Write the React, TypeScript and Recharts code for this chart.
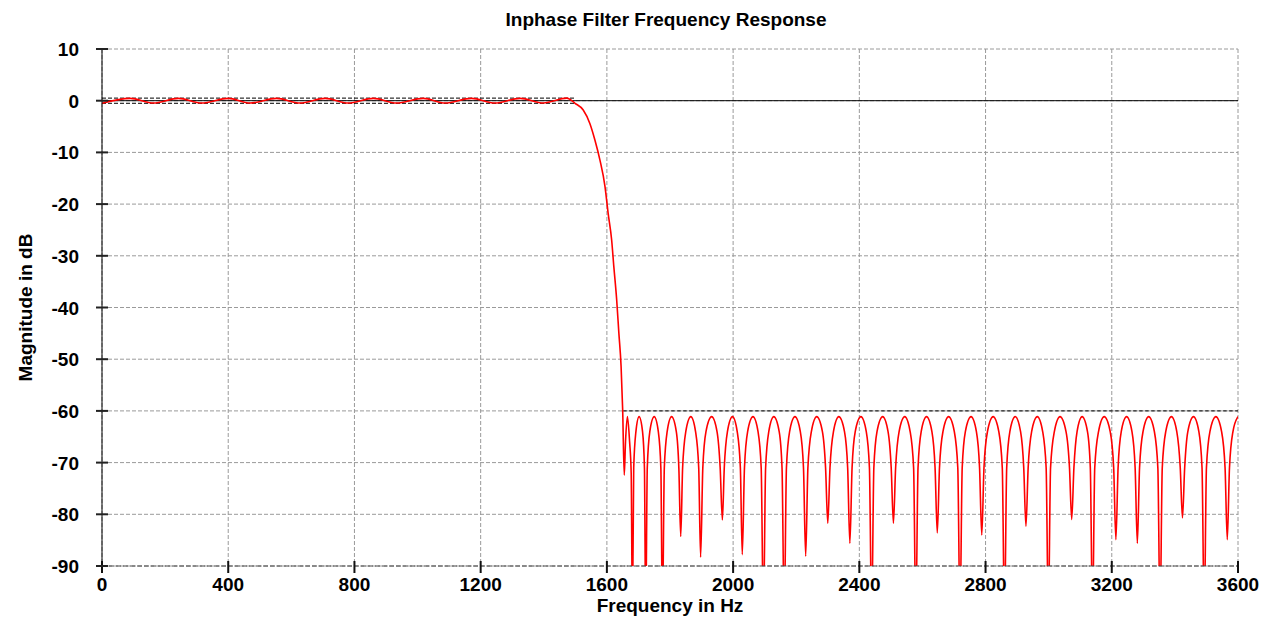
import { LineChart, Line, XAxis, YAxis, CartesianGrid, ReferenceLine, Label } from "recharts";

const freqTicks = [0, 400, 800, 1200, 1600, 2000, 2400, 2800, 3200, 3600];
const dbTicks = [-90, -80, -70, -60, -50, -40, -30, -20, -10, 0, 10];

// passband ripple
const passbandHz = [0, 89, 163, 242, 316, 400, 469, 553, 627, 707, 780, 860, 933, 1018, 1087, 1171, 1245, 1325, 1399, 1473, 1499];
const passbandDb = [-0.5, 0.45, -0.45, 0.45, -0.45, 0.45, -0.45, 0.45, -0.45, 0.45, -0.45, 0.45, -0.45, 0.45, -0.45, 0.45, -0.45, 0.45, -0.45, 0.5, -0.5];

// roll-off
const transitionHz = [1525, 1546, 1562, 1578, 1594, 1604, 1615, 1622, 1631, 1638, 1645, 1650];
const transitionDb = [-1.8, -4.4, -7.6, -11.5, -16.6, -21.8, -26.9, -32.1, -38.5, -45, -51.4, -59.8];

// stopband lobes (null, shoulders, peak), nulls below -90 are clipped
const stopband: [number, number][] = [
  [1655, -72.4], [1659, -66], [1665, -61.1], [1672, -66], [1677, -72],
  [1681, -100], [1685, -71], [1692, -64], [1702, -61.1], [1713, -64], [1719, -71],
  [1723, -100], [1728, -71], [1736, -64], [1750, -61.1], [1763, -64], [1771, -71],
  [1776, -100], [1782, -71], [1791, -64], [1805, -61.1], [1820, -64], [1828, -71],
  [1834, -84.3], [1840, -71], [1850, -64], [1866, -61.1], [1881, -64], [1891, -71],
  [1897, -88.3], [1904, -71], [1914, -64], [1932, -61.1], [1949, -64], [1959, -71],
  [1966, -81.1], [1972, -71], [1982, -64], [1998, -61.1], [2013, -64], [2023, -71],
  [2029, -87.8], [2036, -71], [2046, -64], [2063, -61.1], [2079, -64], [2089, -71],
  [2096, -100], [2103, -71], [2113, -64], [2129, -61.1], [2146, -64], [2155, -71],
  [2162, -100], [2169, -71], [2179, -64], [2196, -61.1], [2213, -64], [2223, -71],
  [2230, -88.1], [2237, -71], [2248, -64], [2265, -61.1], [2283, -64], [2293, -71],
  [2300, -81.7], [2307, -71], [2318, -64], [2335, -61.1], [2353, -64], [2363, -71],
  [2370, -85.6], [2377, -71], [2387, -64], [2405, -61.1], [2422, -64], [2432, -71],
  [2439, -100], [2446, -71], [2456, -64], [2474, -61.1], [2491, -64], [2501, -71],
  [2508, -81.7], [2515, -71], [2526, -64], [2544, -61.1], [2561, -64], [2572, -71],
  [2579, -100], [2586, -71], [2596, -64], [2613, -61.1], [2630, -64], [2640, -71],
  [2647, -83.6], [2654, -71], [2665, -64], [2683, -61.1], [2701, -64], [2712, -71],
  [2719, -100], [2726, -71], [2736, -64], [2754, -61.1], [2771, -64], [2781, -71],
  [2788, -84], [2795, -71], [2806, -64], [2824, -61.1], [2842, -64], [2853, -71],
  [2860, -100], [2867, -71], [2877, -64], [2894, -61.1], [2911, -64], [2921, -71],
  [2928, -82.3], [2935, -71], [2946, -64], [2964, -61.1], [2981, -64], [2992, -71],
  [2999, -100], [3006, -71], [3018, -64], [3036, -61.1], [3055, -64], [3066, -71],
  [3073, -81], [3080, -71], [3090, -64], [3106, -61.1], [3123, -64], [3132, -71],
  [3139, -100], [3146, -71], [3158, -64], [3176, -61.1], [3195, -64], [3206, -71],
  [3213, -84.9], [3220, -71], [3230, -64], [3247, -61.1], [3264, -64], [3274, -71],
  [3281, -85.6], [3288, -71], [3299, -64], [3317, -61.1], [3335, -64], [3346, -71],
  [3353, -100], [3360, -71], [3371, -64], [3389, -61.1], [3406, -64], [3417, -71],
  [3424, -80.7], [3431, -71], [3441, -64], [3459, -61.1], [3476, -64], [3486, -71],
  [3493, -100], [3500, -71], [3511, -64], [3530, -61.1], [3548, -64], [3559, -71],
  [3566, -84.9], [3573, -71], [3584, -64], [3600, -61.1],
];

// spec mask
const passMask = { from: 0, to: 1500, upper: 0.5, lower: -0.5 };
const stopMask = { from: 1650, to: 3600, level: -60 };

const data = [
  ...passbandHz.map((f, i) => ({ f, db: passbandDb[i] })),
  ...transitionHz.map((f, i) => ({ f, db: transitionDb[i] })),
  ...stopband.map(([f, db]) => ({ f, db })),
];

const FONT = '"Liberation Sans", Arial, Helvetica, sans-serif';

const XTick = (props: any) => {
  const { x, y, payload } = props;
  return (
    <g>
      <line x1={x} x2={x} y1={y - 5} y2={y + 7} stroke="#111" strokeWidth={2} />
      <text x={x} y={y + 25} textAnchor="middle" fontFamily={FONT} fontWeight="bold" fontSize={19} fill="#000">
        {payload.value}
      </text>
    </g>
  );
};

const YTick = (props: any) => {
  const { x, y, payload } = props;
  return (
    <g>
      <line x1={x - 6} x2={x + 6} y1={y} y2={y} stroke="#222" strokeWidth={2} />
      <text x={x - 23} y={y + 7} textAnchor="end" fontFamily={FONT} fontWeight="bold" fontSize={19} fill="#000">
        {payload.value}
      </text>
    </g>
  );
};

export default function App() {
  return (
    <div style={{ position: "relative", width: 1254, height: 611, background: "#fff" }}>
      <svg width={1254} height={30} style={{ position: "absolute", left: 0, top: 0 }}>
        <text x={658} y={18} textAnchor="middle" fontFamily={FONT} fontWeight="bold" fontSize={19} fill="#000">
          Inphase Filter Frequency Response
        </text>
      </svg>
      <LineChart width={1254} height={611} data={data} margin={{ top: 41, right: 24, bottom: 0, left: 0 }}>
        <CartesianGrid stroke="#9a9a9a" strokeDasharray="4 2" />
        <XAxis
          dataKey="f"
          type="number"
          domain={[0, 3600]}
          ticks={freqTicks}
          allowDataOverflow
          height={53}
          tickSize={0}
          tickMargin={0}
          tickLine={false}
          axisLine={{ stroke: "#444", strokeDasharray: "5 2" }}
          tick={<XTick />}
          interval={0}
        >
          <Label
            value="Frequency in Hz"
            position="insideBottom"
            offset={7}
            style={{ fontFamily: FONT, fontWeight: "bold", fontSize: 19, fill: "#000" }}
          />
        </XAxis>
        <YAxis
          type="number"
          domain={[-90, 10]}
          ticks={dbTicks}
          allowDataOverflow
          width={94}
          tickSize={0}
          tickMargin={0}
          tickLine={false}
          axisLine={{ stroke: "#000" }}
          tick={<YTick />}
          interval={0}
        >
          <Label
            value="Magnitude in dB"
            angle={-90}
            position="insideLeft"
            offset={17}
            style={{ fontFamily: FONT, fontWeight: "bold", fontSize: 19, fill: "#000", textAnchor: "middle" }}
          />
        </YAxis>
        <ReferenceLine y={0} stroke="#000" strokeWidth={1} />
        <ReferenceLine
          segment={[{ x: passMask.from, y: passMask.upper }, { x: passMask.to, y: passMask.upper }]}
          stroke="#000"
          strokeDasharray="4 2"
        />
        <ReferenceLine
          segment={[{ x: passMask.from, y: passMask.lower }, { x: passMask.to, y: passMask.lower }]}
          stroke="#000"
          strokeDasharray="4 2"
        />
        <ReferenceLine
          segment={[{ x: stopMask.from, y: stopMask.level }, { x: stopMask.to, y: stopMask.level }]}
          stroke="#000"
          strokeDasharray="4 2"
        />
        <Line
          type="monotone"
          dataKey="db"
          stroke="#ff0000"
          strokeWidth={1.6}
          dot={false}
          activeDot={false}
          isAnimationActive={false}
        />
      </LineChart>
    </div>
  );
}
